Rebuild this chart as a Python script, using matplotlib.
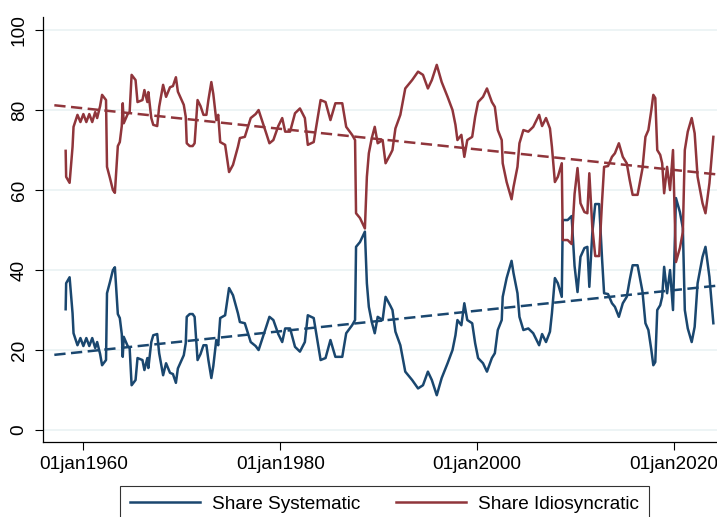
import matplotlib.pyplot as plt

plt.rcParams['font.family'] = ['Liberation Sans', 'DejaVu Sans']

# Values (decimal years, shares in percent)
years = [
    1958.2, 1958.25, 1958.6, 1958.9, 1959.0, 1959.4, 1959.7, 1960.0, 1960.3, 1960.6,
    1960.9, 1961.2, 1961.4, 1961.7, 1961.9, 1962.3, 1962.4, 1962.7, 1963.0, 1963.2,
    1963.5, 1963.7, 1963.9, 1964.0, 1964.1, 1964.5, 1964.7, 1964.9, 1965.3, 1965.5,
    1966.0, 1966.2, 1966.5, 1966.6, 1966.9, 1967.1, 1967.5, 1967.7, 1968.1, 1968.4,
    1968.8, 1969.1, 1969.4, 1969.6, 1970.2, 1970.4, 1970.5, 1970.8, 1971.1, 1971.3,
    1971.6, 1971.9, 1972.2, 1972.5, 1972.7, 1973.0, 1973.2, 1973.5, 1973.7, 1973.9,
    1974.4, 1974.8, 1975.2, 1975.7, 1975.9, 1976.4, 1977.0, 1977.5, 1977.8, 1978.3,
    1978.6, 1978.9, 1979.3, 1979.8, 1980.2, 1980.5, 1981.0, 1981.5, 1982.0, 1982.5,
    1982.8, 1983.4, 1983.8, 1984.1, 1984.6, 1985.1, 1985.6, 1986.3, 1986.7, 1987.3,
    1987.6, 1987.7, 1988.1, 1988.6, 1988.8, 1989.0, 1989.3, 1989.6, 1989.9, 1990.4,
    1990.7, 1991.2, 1991.4, 1991.7, 1992.2, 1992.7, 1993.4, 1994.0, 1994.5, 1995.0,
    1995.4, 1995.9, 1996.4, 1997.0, 1997.5, 1997.8, 1998.0, 1998.4, 1998.7, 1999.0,
    1999.5, 1999.8, 2000.1, 2000.6, 2001.0, 2001.5, 2001.8, 2002.1, 2002.5, 2002.6,
    2003.0, 2003.5, 2003.7, 2004.1, 2004.3, 2004.7, 2005.2, 2005.7, 2006.3, 2006.6,
    2007.0, 2007.4, 2007.6, 2007.9, 2008.2, 2008.6, 2008.7, 2009.2, 2009.6, 2009.9,
    2010.2, 2010.5, 2010.9, 2011.2, 2011.4, 2011.7, 2012.0, 2012.4, 2012.7, 2012.9,
    2013.3, 2013.7, 2014.0, 2014.4, 2014.8, 2015.2, 2015.5, 2015.8, 2016.3, 2016.8,
    2017.1, 2017.4, 2017.7, 2017.9, 2018.1, 2018.3, 2018.6, 2018.8, 2019.0, 2019.3,
    2019.6, 2019.9, 2020.2, 2020.6, 2020.9, 2021.1, 2021.4, 2021.8, 2022.1, 2022.4,
    2022.9, 2023.2, 2023.6, 2024.0,
]

share_idio = [
    69.8, 63.3, 61.8, 70.8, 75.8, 78.8, 77.0, 79.0, 77.0, 79.0,
    77.0, 79.5, 78.0, 81.0, 83.8, 82.5, 65.8, 63.0, 60.0, 59.3,
    71.0, 72.0, 76.0, 81.7, 76.7, 79.0, 79.5, 88.8, 87.5, 82.0,
    82.5, 85.0, 82.0, 84.5, 78.0, 76.3, 76.0, 80.8, 86.3, 83.3,
    85.7, 86.0, 88.2, 84.6, 81.3, 78.3, 71.7, 71.0, 71.0, 71.7,
    82.5, 81.0, 78.8, 78.8, 82.5, 87.0, 84.0, 77.5, 78.8, 72.0,
    71.3, 64.5, 66.3, 70.8, 73.0, 73.3, 78.0, 79.0, 80.0, 76.3,
    74.0, 71.7, 72.5, 76.0, 78.0, 74.6, 74.6, 79.2, 80.4, 78.0,
    71.3, 72.0, 78.0, 82.5, 82.0, 77.5, 81.7, 81.7, 75.8, 73.8,
    72.5, 54.2, 53.0, 50.4, 63.3, 69.2, 73.0, 75.8, 71.7, 72.5,
    66.7, 69.0, 70.0, 75.4, 78.8, 85.4, 87.5, 89.6, 88.8, 85.4,
    87.5, 91.3, 87.0, 83.3, 80.0, 76.3, 72.5, 73.8, 68.3, 72.5,
    73.3, 78.3, 82.0, 83.3, 85.4, 82.0, 80.8, 75.0, 72.5, 66.7,
    62.0, 57.7, 60.8, 65.8, 71.7, 75.0, 74.6, 75.8, 78.8, 76.0,
    78.0, 75.4, 70.8, 62.0, 63.3, 66.7, 47.5, 47.5, 46.5, 59.0,
    65.5, 56.7, 54.5, 54.2, 64.2, 50.8, 43.5, 43.5, 57.5, 65.8,
    66.0, 68.3, 69.2, 71.7, 68.3, 66.7, 62.5, 58.8, 58.8, 65.4,
    73.3, 75.0, 80.0, 83.8, 83.0, 70.0, 68.8, 66.7, 59.2, 65.8,
    60.0, 70.0, 42.0, 45.5, 49.5, 70.0, 74.6, 78.0, 74.2, 63.3,
    56.7, 54.2, 61.7, 73.3,
]

share_sys = [
    30.2, 36.7, 38.2, 29.2, 24.2, 21.2, 23.0, 21.0, 23.0, 21.0,
    23.0, 20.5, 22.0, 19.0, 16.2, 17.5, 34.2, 37.0, 40.0, 40.7,
    29.0, 28.0, 24.0, 18.3, 23.3, 21.0, 20.5, 11.2, 12.5, 18.0,
    17.5, 15.0, 18.0, 15.5, 22.0, 23.7, 24.0, 19.2, 13.7, 16.7,
    14.3, 14.0, 11.8, 15.4, 18.7, 21.7, 28.3, 29.0, 29.0, 28.3,
    17.5, 19.0, 21.2, 21.2, 17.5, 13.0, 16.0, 22.5, 21.2, 28.0,
    28.7, 35.5, 33.7, 29.2, 27.0, 26.7, 22.0, 21.0, 20.0, 23.7,
    26.0, 28.3, 27.5, 24.0, 22.0, 25.4, 25.4, 20.8, 19.6, 22.0,
    28.7, 28.0, 22.0, 17.5, 18.0, 22.5, 18.3, 18.3, 24.2, 26.2,
    27.5, 45.8, 47.0, 49.6, 36.7, 30.8, 27.0, 24.2, 28.3, 27.5,
    33.3, 31.0, 30.0, 24.6, 21.2, 14.6, 12.5, 10.4, 11.2, 14.6,
    12.5, 8.7, 13.0, 16.7, 20.0, 23.7, 27.5, 26.2, 31.7, 27.5,
    26.7, 21.7, 18.0, 16.7, 14.6, 18.0, 19.2, 25.0, 27.5, 33.3,
    38.0, 42.3, 39.2, 34.2, 28.3, 25.0, 25.4, 24.2, 21.2, 24.0,
    22.0, 24.6, 29.2, 38.0, 36.7, 33.3, 52.5, 52.5, 53.5, 41.0,
    34.5, 43.3, 45.5, 45.8, 35.8, 49.2, 56.5, 56.5, 42.5, 34.2,
    34.0, 31.7, 30.8, 28.3, 31.7, 33.3, 37.5, 41.2, 41.2, 34.6,
    26.7, 25.0, 20.0, 16.2, 17.0, 30.0, 31.2, 33.3, 40.8, 34.2,
    40.0, 30.0, 58.0, 54.5, 50.5, 30.0, 25.4, 22.0, 25.8, 36.7,
    43.3, 45.8, 38.3, 26.7,
]

# linear trends (end points)
trend_years = [1957.05, 2024.4]
trend_sys = [18.8, 36.1]
trend_idio = [81.2, 63.9]

xticks = [1960, 1980, 2000, 2020]
xtick_labels = ['01jan1960', '01jan1980', '01jan2000', '01jan2020']
yticks = [0, 20, 40, 60, 80, 100]

navy = '#1a476f'
maroon = '#90353b'

fig = plt.figure(figsize=(7.17, 5.17), dpi=100)
ax = fig.add_axes([0.06, 0.145, 0.94, 0.822])

ax.plot(years, share_sys, color=navy, lw=1.8, label='Share Systematic')
ax.plot(years, share_idio, color=maroon, lw=1.8, label='Share Idiosyncratic')
ax.plot(trend_years, trend_sys, color=navy, lw=1.8, dashes=(4.5, 2.2))
ax.plot(trend_years, trend_idio, color=maroon, lw=1.8, dashes=(4.5, 2.2))

ax.set_xlim(1955.9, 2024.37)
ax.set_ylim(-3, 103.25)
ax.set_xticks(xticks)
ax.set_xticklabels(xtick_labels)
ax.set_yticks(yticks)
ax.set_yticklabels([str(v) for v in yticks], rotation=90, va='center')
ax.tick_params(axis='both', labelsize=13.7, length=6, width=0.8, direction='out')
ax.tick_params(axis='y', pad=5)
ax.tick_params(axis='x', pad=4)
ax.yaxis.grid(True, color='#eaf2f3', lw=1.2)
ax.set_axisbelow(True)
for s in ['top', 'right']:
    ax.spines[s].set_visible(False)
for s in ['left', 'bottom']:
    ax.spines[s].set_linewidth(0.9)

leg = ax.legend(loc='upper center', bbox_to_anchor=(0.5363, 1 - 486 / 517),
                bbox_transform=fig.transFigure, borderaxespad=0, ncol=2,
                fontsize=13.7, frameon=True, fancybox=False, edgecolor='black',
                handlelength=3.7, handletextpad=0.63, columnspacing=1.84,
                borderpad=0.5)
leg.get_frame().set_linewidth(0.8)

fig.savefig('out.png', dpi=100)
